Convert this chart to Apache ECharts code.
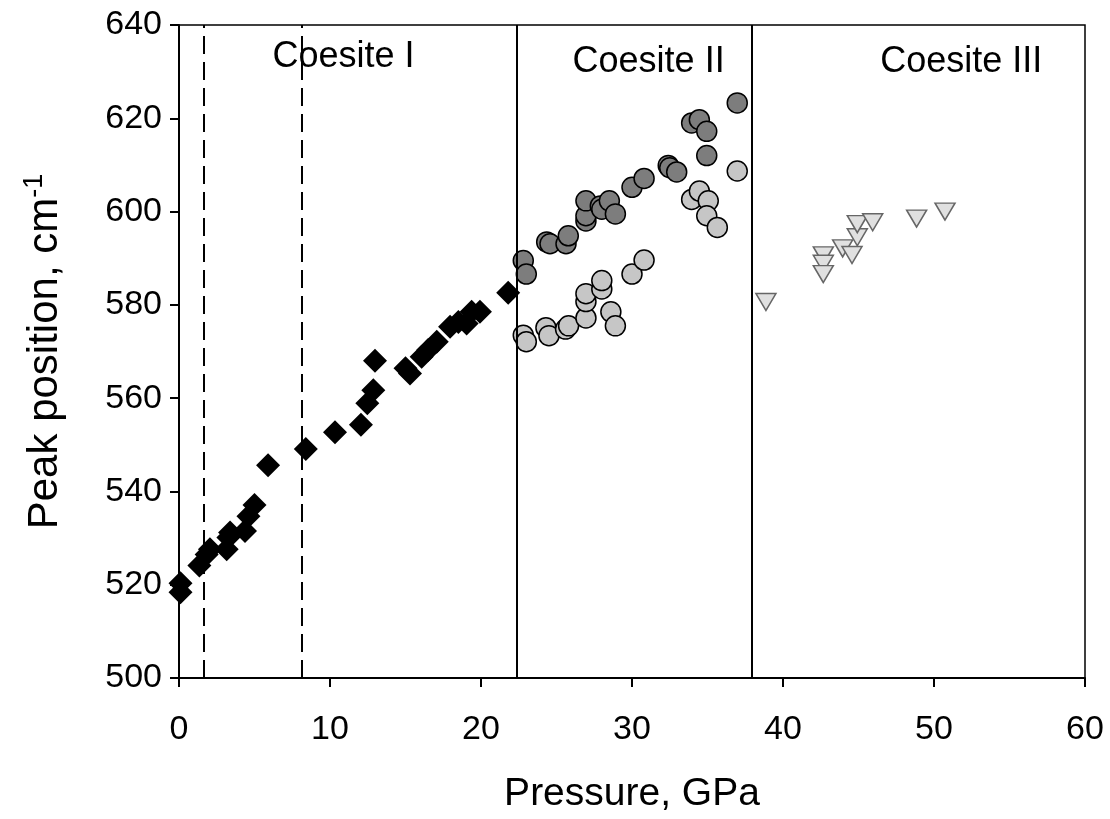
<!DOCTYPE html>
<html>
<head>
<meta charset="utf-8">
<script src="https://cdn.jsdelivr.net/npm/echarts@6/dist/echarts.min.js"></script>
<style>
  html, body { margin: 0; padding: 0; background: #fff; }
  #chart { width: 1110px; height: 819px; }
</style>
</head>
<body>
<div id="chart"></div>
<script>
// Coesite I (black diamonds): [pressure GPa, peak cm-1]
const coesiteI = [
  [0.1, 520.3], [0.1, 518.4], [1.35, 524.1], [1.83, 526.5], [2.05, 527.6],
  [3.16, 527.6], [3.27, 530.1], [3.38, 531.2], [4.37, 531.5], [4.6, 534.7],
  [5.0, 537.1], [5.9, 545.6], [8.4, 549.1], [10.33, 552.7], [12.05, 554.3],
  [12.47, 558.9], [12.87, 561.7], [12.98, 568.0], [15.0, 566.4], [15.3, 565.3],
  [16.07, 568.9], [16.5, 570.3], [17.07, 572.1], [17.95, 575.3], [18.5, 576.3],
  [19.05, 576.0], [19.38, 578.5], [19.93, 578.5], [21.8, 582.6]
];
// Coesite II upper branch (dark circles)
const coesiteIIHigh = [
  [22.8, 589.5], [23.0, 586.6], [24.35, 593.5], [24.57, 593.1], [25.63, 593.1],
  [25.78, 594.8], [26.95, 598.0], [26.95, 599.1], [26.95, 602.3], [27.9, 601.2],
  [28.0, 600.5], [28.5, 602.3], [28.9, 599.5], [30.0, 605.2], [30.8, 607.1],
  [32.4, 609.9], [32.5, 609.4], [32.96, 608.5], [33.95, 619.0], [34.46, 619.7],
  [34.95, 617.2], [34.95, 612.0], [36.97, 623.3]
];
// Coesite II lower branch (light circles)
const coesiteIILow = [
  [22.8, 573.5], [23.0, 572.1], [24.3, 575.1], [24.5, 573.4], [25.6, 574.8],
  [25.8, 575.5], [26.95, 577.2], [26.95, 580.7], [26.95, 582.4], [28.0, 583.4],
  [28.0, 585.2], [28.6, 578.5], [28.9, 575.5], [30.0, 586.6], [30.8, 589.6],
  [33.95, 602.6], [34.46, 604.4], [35.05, 602.3], [34.95, 599.1], [35.65, 596.6],
  [36.97, 608.7]
];
// Coesite III (light triangles)
const coesiteIII = [
  [38.87, 580.6], [42.67, 590.6], [42.67, 588.8], [42.67, 586.6], [43.95, 592.1],
  [44.57, 590.7], [44.92, 594.5], [44.92, 597.3], [45.94, 597.7], [48.85, 598.5],
  [50.73, 600.0]
];
// phase boundaries
const dashedBounds = [1.66, 8.1];
const solidBounds = [22.4, 37.9];
const phaseLabels = [
  { name: 'Coesite I', value: [10.9, 633.2] },
  { name: 'Coesite II', value: [31.1, 632.1] },
  { name: 'Coesite III', value: [51.8, 632.1] }
];

const FONT = 'Liberation Sans, Arial, sans-serif';
const chart = echarts.init(document.getElementById('chart'));

const option = {
  animation: false,
  grid: {
    left: 179, right: 25, top: 25, bottom: 138,
    show: true, borderColor: '#000', borderWidth: 1.5
  },
  xAxis: {
    type: 'value', min: 0, max: 60, interval: 10,
    name: 'Pressure, GPa', nameLocation: 'middle', nameGap: 97,
    nameTextStyle: { fontFamily: FONT, fontSize: 39, color: '#000' },
    axisLine: { show: true, lineStyle: { color: '#000', width: 2 } },
    axisTick: { show: true, inside: false, length: 9, lineStyle: { color: '#000', width: 2 } },
    axisLabel: { fontFamily: FONT, fontSize: 34, color: '#000', margin: 35 },
    splitLine: { show: false }
  },
  yAxis: {
    type: 'value', min: 500, max: 640, interval: 20,
    name: '{a|Peak position, cm}{b|-1}', nameLocation: 'middle', nameGap: 110, nameRotate: 90,
    nameTextStyle: {
      rich: {
        a: { fontFamily: FONT, fontSize: 42, color: '#000', lineHeight: 48 },
        b: { fontFamily: FONT, fontSize: 27, color: '#000', verticalAlign: 'top', lineHeight: 48 }
      }
    },
    axisLine: { show: true, lineStyle: { color: '#000', width: 2 } },
    axisTick: { show: true, inside: false, length: 9, lineStyle: { color: '#000', width: 2 } },
    axisLabel: { fontFamily: FONT, fontSize: 34, color: '#000', margin: 17 },
    splitLine: { show: false }
  },
  series: [
    {
      type: 'scatter', name: 'bounds', data: [], silent: true,
      markLine: {
        silent: true, symbol: 'none', animation: false,
        label: { show: false },
        data: [
          ...dashedBounds.map(v => ({ xAxis: v, lineStyle: { type: [18, 8], color: '#000', width: 2, opacity: 1 } })),
          ...solidBounds.map(v => ({ xAxis: v, lineStyle: { type: 'solid', color: '#000', width: 2, opacity: 1 } }))
        ]
      }
    },
    {
      type: 'scatter', name: 'Coesite I', data: coesiteI,
      symbol: 'diamond', symbolSize: [24, 24],
      itemStyle: { color: '#000', opacity: 1 }
    },
    {
      type: 'scatter', name: 'Coesite II low', data: coesiteIILow,
      symbol: 'circle', symbolSize: 20,
      itemStyle: { color: '#c6c6c6', borderColor: '#000', borderWidth: 1.5, opacity: 1 }
    },
    {
      type: 'scatter', name: 'Coesite II high', data: coesiteIIHigh,
      symbol: 'circle', symbolSize: 20,
      itemStyle: { color: '#7d7d7d', borderColor: '#000', borderWidth: 1.5, opacity: 1 }
    },
    {
      type: 'scatter', name: 'Coesite III', data: coesiteIII,
      symbol: 'triangle', symbolRotate: 180, symbolSize: [20, 17],
      itemStyle: { color: '#e0e0e0', borderColor: '#666', borderWidth: 1.5, opacity: 1 }
    },
    {
      type: 'scatter', name: 'labels', data: phaseLabels, symbolSize: 0, silent: true,
      label: {
        show: true, position: 'inside', formatter: p => p.name,
        fontFamily: FONT, fontSize: 36, color: '#000', opacity: 1
      }
    }
  ]
};

chart.setOption(option);
</script>
</body>
</html>
